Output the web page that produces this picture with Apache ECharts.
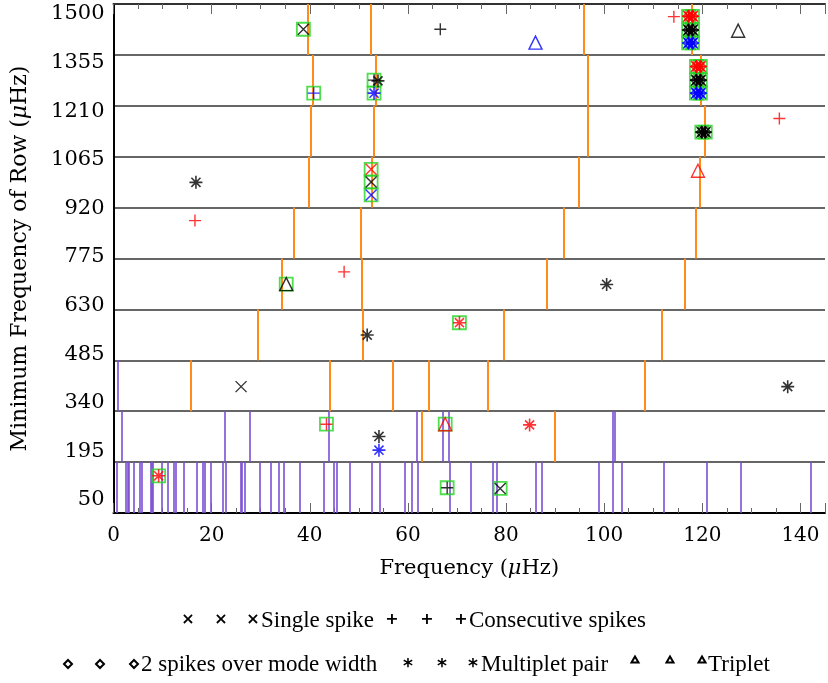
<!DOCTYPE html>
<html>
<head>
<meta charset="utf-8">
<script src="https://cdn.jsdelivr.net/npm/echarts@6/dist/echarts.min.js"></script>
<style>html,body{margin:0;padding:0;background:#fff}#c{width:828px;height:683px}</style>
</head>
<body>
<div id="c"></div>
<script>
// ---- rows of the echelle diagram ----
const rowStarts = [50, 195, 340, 485, 630, 775, 920, 1065, 1210, 1355];
const rowWidth = 145;
const xTicks = [0, 20, 40, 60, 80, 100, 120, 140];

// orange (mode) lines per row
const modeRow195 = [62.9, 90.0];
const modeRow340 = [15.8, 44.1, 56.9, 64.3, 76.2, 108.3];
const modeRow485 = [29.4, 50.8, 79.6, 111.8];
const modeRow630 = [34.3, 50.5, 88.3, 116.4];
const modeRow775 = [36.7, 50.3, 91.8, 118.6];
const modeRow920 = [39.8, 52.7, 94.9, 119.4];
const modeRow1065 = [40.1, 53.1, 96.6, 120.4];
const modeRow1210 = [40.6, 53.5, 96.7, 119.6];
const modeRow1355 = [39.6, 52.5, 95.9, 117.8];

// purple (spike) lines per row
const spikeRow50 = [0.6, 2.5, 3.0, 3.2, 4.1, 5.3, 5.8, 7.5, 7.8, 8.0, 9.8, 11.1, 12.2, 12.7, 14.4, 17.0, 18.1, 18.6, 19.8, 22.3, 22.8, 25.9, 26.2, 26.8, 29.8, 32.0, 33.7, 34.6, 38.0, 42.9, 44.8, 45.4, 48.2, 52.7, 54.3, 59.4, 60.8, 62.0, 68.6, 72.8, 77.3, 78.1, 86.0, 87.2, 98.8, 101.7, 103.5, 112.1, 120.9, 127.9, 142.0];
const spikeRow195 = [1.6, 22.7, 27.7, 43.9, 61.8, 67.0, 68.4, 101.8, 102.2];
const spikeRow340 = [0.8];

// markers  [frequency, y]
const singleBlack = [[38.7, 1428], [52.5, 993], [26.0, 410], [78.8, 120]];
const singleRed = [[52.5, 1029]];
const singleBlue = [[52.5, 956]];
const consecBlack = [[66.6, 1428], [53.1, 1283], [68.0, 122]];
const consecRed = [[114.2, 1464], [135.7, 1174], [16.6, 883], [47.0, 737], [43.4, 303]];
const consecBlue = [[40.8, 1246]];
const pairBlack = [[53.9, 1281], [16.8, 992], [100.5, 701], [51.7, 557], [137.4, 410], [54.1, 268]];
const pairRed = [[70.5, 592], [84.8, 301], [9.2, 156]];
const pairBlue = [[53.1, 1246], [54.1, 229]];
const tripBlack = [[127.3, 1424], [35.2, 702]];
const tripRed = [[119.1, 1025], [67.6, 303]];
const tripBlue = [[86.0, 1390]];
// dense clusters (several overlapping detections)
const clusterRed = [[117.2, 1465], [118.0, 1465], [118.8, 1322], [119.6, 1322]];
const clusterBlack = [[117.2, 1426], [118.0, 1426], [118.8, 1283], [119.6, 1283], [119.9, 1135], [120.6, 1135]];
const clusterBlue = [[117.2, 1389], [118.0, 1389], [118.8, 1246], [119.6, 1246]];
// boxed (green squares)
const boxed = [[38.7, 1428], [40.8, 1246], [53.1, 1283], [53.1, 1246], [52.5, 1029], [52.5, 993], [52.5, 956], [35.2, 702], [70.5, 592], [43.4, 303], [67.6, 303], [9.2, 156], [68.0, 122], [78.8, 120]];

// ---- build ----
const modeRows = [[195, modeRow195], [340, modeRow340], [485, modeRow485], [630, modeRow630], [775, modeRow775], [920, modeRow920], [1065, modeRow1065], [1210, modeRow1210], [1355, modeRow1355]];
const spikeRows = [[50, spikeRow50], [195, spikeRow195], [340, spikeRow340]];
function segs(rows) {
  const out = [];
  rows.forEach(([r, xs]) => xs.forEach(x => out.push({ coords: [[x, r], [x, r + rowWidth]] })));
  return out;
}

const P_X = 'path://M0,0L10,10M10,0L0,10';
const P_PLUS = 'path://M5,0L5,10M0,5L10,5';
const P_AST = 'path://M5,0L5,10M0,5L10,5M1.5,1.5L8.5,8.5M8.5,1.5L1.5,8.5';
const P_TRI = 'path://M5,0L10,9L0,9Z';
const P_DIA = 'path://M5,0L10,5L5,10L0,5Z';
const COL = { black: '#000000', red: '#ff0000', blue: '#0000ff' };

function sc(data, sym, color, size, z, bw) {
  return {
    type: 'scatter', xAxisIndex: 0, yAxisIndex: 0, data: data, symbol: sym, symbolSize: size,
    itemStyle: { color: 'rgba(0,0,0,0)', borderColor: color, borderWidth: bw || 1.4 },
    z: z || 5, silent: true, animation: false
  };
}

const serif = 'DejaVu Serif';
const chart = echarts.init(document.getElementById('c'), null, { renderer: 'canvas' });

const series = [
  { type: 'lines', coordinateSystem: 'cartesian2d', xAxisIndex: 0, yAxisIndex: 0, data: segs(spikeRows),
    lineStyle: { color: '#7a4fd4', width: 1.6, opacity: 1 }, z: 2, silent: true, animation: false },
  { type: 'lines', coordinateSystem: 'cartesian2d', xAxisIndex: 0, yAxisIndex: 0, data: segs(modeRows),
    lineStyle: { color: '#ff8c1a', width: 2, opacity: 1 }, z: 2, silent: true, animation: false },
  sc(boxed.concat(clusterRed, clusterBlack, clusterBlue), 'rect', '#22d622', 13, 4, 1.8),
  sc(clusterRed, P_DIA, COL.red, 11),
  sc(clusterBlack, P_DIA, COL.black, 11),
  sc(clusterBlue, P_DIA, COL.blue, 11),
  sc(singleBlack.concat(clusterBlack), P_X, COL.black, 11),
  sc(singleRed.concat(clusterRed), P_X, COL.red, 11),
  sc(singleBlue.concat(clusterBlue), P_X, COL.blue, 11),
  sc(consecBlack.concat(clusterBlack), P_PLUS, COL.black, 12),
  sc(consecRed.concat(clusterRed), P_PLUS, COL.red, 12),
  sc(consecBlue, P_PLUS, COL.blue, 12),
  sc(pairBlack.concat(clusterBlack), P_AST, COL.black, 13, 5, 1.6),
  sc(pairRed.concat(clusterRed), P_AST, COL.red, 13, 5, 1.6),
  sc(pairBlue.concat(clusterBlue), P_AST, COL.blue, 13, 5, 1.6),
  sc(tripBlack, P_TRI, COL.black, 13),
  sc(tripRed, P_TRI, COL.red, 13),
  sc(tripBlue, P_TRI, COL.blue, 13)
];

const tickStyle = { color: '#666', width: 1 };
function xax(pos, interval, len, extra) {
  return Object.assign({
    type: 'value', gridIndex: 0, position: pos, min: 0, max: 145, interval: interval,
    axisLine: { show: false }, axisTick: { show: true, inside: true, length: len, lineStyle: tickStyle },
    axisLabel: { show: false }, splitLine: { show: false }
  }, extra || {});
}

const legendY1 = 620, legendY2 = 664;
const symFont = 'bold 16px "DejaVu Sans"';
const txtFont = '23px "Liberation Serif"';
function gSym(x, y, ch, font) {
  return { type: 'text', x: x, y: y, style: { text: ch, font: font || symFont, fill: '#000', textAlign: 'center', textVerticalAlign: 'middle' } };
}
function gDia(x, y) {
  return { type: 'polygon', shape: { points: [[x, y - 4], [x + 4, y], [x, y + 4], [x - 4, y]] }, style: { fill: 'none', stroke: '#000', lineWidth: 2 } };
}
function gTri(x, y) {
  return { type: 'polygon', shape: { points: [[x, y - 3.5], [x + 3.5, y + 2.5], [x - 3.5, y + 2.5]] }, style: { fill: 'none', stroke: '#000', lineWidth: 2 } };
}
function gLabel(x, y, text) {
  return { type: 'text', x: x, y: y, style: { text: text, font: txtFont, fill: '#000', textAlign: 'left', textVerticalAlign: 'middle' } };
}

const graphic = [
  gSym(188, legendY1, '×'), gSym(221, legendY1, '×'), gSym(253, legendY1, '×'),
  gLabel(261, legendY1 + 1, 'Single spike'),
  gSym(392, legendY1, '+'), gSym(427, legendY1, '+'), gSym(461, legendY1, '+'),
  gLabel(469, legendY1 + 1, 'Consecutive spikes'),
  gDia(68, legendY2), gDia(100, legendY2), gDia(134, legendY2),
  gLabel(141, legendY2 + 1, '2 spikes over mode width'),
  gSym(408, legendY2 + 3, '*', 'bold 19px "DejaVu Sans"'), gSym(442, legendY2 + 3, '*', 'bold 19px "DejaVu Sans"'), gSym(473, legendY2 + 3, '*', 'bold 19px "DejaVu Sans"'),
  gLabel(481, legendY2 + 1, 'Multiplet pair'),
  gTri(635, legendY2 - 4), gTri(670, legendY2 - 4), gTri(702, legendY2 - 4),
  gLabel(708, legendY2 + 1, 'Triplet')
];

chart.setOption({
  animation: false,
  backgroundColor: '#fff',
  grid: [
    { left: 113.5, top: 4, right: -5, bottom: 170 },
    { left: 113.5, top: 14, right: -5, bottom: 183 }
  ],
  xAxis: [
    xax('bottom', 5, 5, {
      axisLine: { show: true, onZero: false, lineStyle: { color: '#000', width: 2 } },
      axisLabel: { show: true, margin: 13, color: '#000', fontFamily: serif, fontSize: 20,
        formatter: v => (xTicks.indexOf(v) >= 0 ? String(v) : '') },
      name: 'Frequency ({i|μ}Hz)', nameLocation: 'middle', nameGap: 45,
      nameTextStyle: { color: '#000', fontFamily: serif, fontSize: 21, rich: { i: { fontStyle: 'italic', fontFamily: serif, fontSize: 21 } } }
    }),
    xax('bottom', 20, 10),
    xax('top', 5, 5, { axisLine: { show: true, onZero: false, lineStyle: { color: '#333', width: 2 } } }),
    xax('top', 20, 10),
    { type: 'value', gridIndex: 1, min: 0, max: 145, show: false }
  ],
  yAxis: [
    { type: 'value', gridIndex: 0, min: 50, max: 1500, interval: 145,
      axisLine: { show: true, onZero: false, lineStyle: { color: '#000', width: 2 } },
      axisTick: { show: false }, axisLabel: { show: false },
      splitLine: { show: true, lineStyle: { color: '#333', width: 1.6 } },
      name: 'Minimum Frequency of Row ({i|μ}Hz)', nameLocation: 'middle', nameGap: 82, nameRotate: 90,
      nameTextStyle: { color: '#000', fontFamily: serif, fontSize: 22, rich: { i: { fontStyle: 'italic', fontFamily: serif, fontSize: 22 } } }
    },
    { type: 'value', gridIndex: 1, min: 50, max: 1500, interval: 145,
      axisLine: { show: false }, axisTick: { show: false }, splitLine: { show: false },
      axisLabel: { show: true, margin: 9, color: '#000', fontFamily: serif, fontSize: 21, formatter: v => String(v) }
    }
  ],
  series: series,
  graphic: graphic
});
</script>
</body>
</html>
